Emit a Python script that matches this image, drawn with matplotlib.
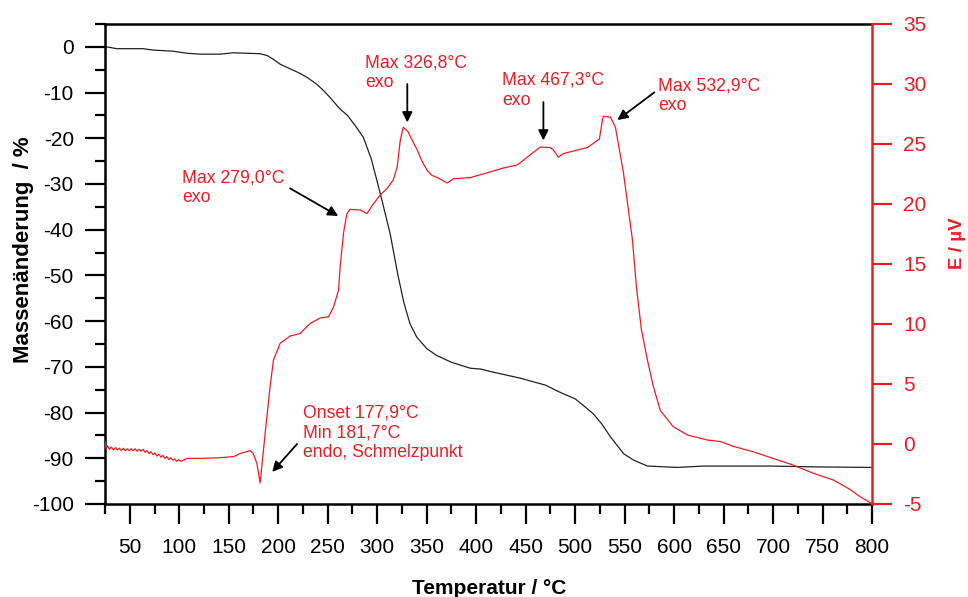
import matplotlib
matplotlib.use("Agg")
import matplotlib.pyplot as plt
from matplotlib.ticker import MultipleLocator, FixedLocator

plt.rcParams['font.family'] = ['Liberation Sans', 'DejaVu Sans']
plt.rcParams['axes.unicode_minus'] = False

RED = '#ed1c24'

# mass change (TG), left axis
tg_T = [25, 26.7, 36.8, 63.4, 73.5, 93.8, 107.9, 121, 141, 154.4, 181.7, 188.8, 195, 202, 212, 222, 230, 239,
        246, 252, 262, 270, 278, 286, 294, 303, 313, 321, 327, 333, 340, 350, 360, 375, 394, 405,
        414, 445, 470, 485, 500, 508, 518, 527, 535.6, 549, 559, 573, 603, 630, 697, 748, 800]
tg_m = [0.1, 0, -0.4, -0.4, -0.7, -0.95, -1.4, -1.6, -1.6, -1.3, -1.5, -1.9, -2.7, -3.8, -4.8, -5.8, -6.8, -8.2,
        -9.6, -11, -13.5, -15, -17.3, -19.8, -24.5, -32, -40.8, -50, -56, -60.5, -63.5, -66, -67.5, -69, -70.3, -70.5,
        -71, -72.5, -74, -75.6, -77, -78.4, -80.2, -82.5, -85.3, -89, -90.4, -91.7, -92, -91.7, -91.7, -91.9, -92]

# DTA signal, right axis
dta_T = [25, 26, 27.5, 29.5, 31.5, 33.5, 35.5, 37.5, 39.5, 41.5, 43.5, 45.5, 47.5, 49.5, 51.5,
         53.5, 55.5, 57.5, 59.5, 61.5, 63.5, 65.5, 67.5, 69.5, 71.5, 73.5, 75.5, 77.5, 79.5,
         81.5, 83.5, 85.5, 87.5, 89.5, 91.5, 93.5, 95.5, 97.5, 99.5, 101.5, 108, 121, 140, 155,
         161.5, 171.6, 174.6, 178.4, 181.7, 183.4, 186.8, 191.8, 195.2, 202, 212, 222, 232.3,
         242.4, 250.8, 255.8, 260.9, 262.6, 266, 269.4, 272.7, 282.8, 289.6, 296, 303, 310, 316.2,
         320.2, 323.3, 326.3, 331.4, 336, 340.5, 345, 350.6, 355, 360.7, 370.8, 376.9, 394, 411.2, 427.4,
         441.6, 454.7, 464.8, 474.9, 478, 483, 488.1, 502.2, 512.4, 522.5, 524.5, 527.5, 528.5,
         535.6, 540.7, 548.8, 557.9, 562, 567, 573, 579, 586, 599, 613.5, 633.7, 647, 660, 680,
         700, 720, 741, 761, 778, 788, 798.5, 800]
dta_E = [0.2, -0.4, -0.15, -0.45, -0.25, -0.5, -0.3, -0.5, -0.35, -0.55, -0.35, -0.55, -0.4, -0.55, -0.4,
         -0.55, -0.4, -0.6, -0.45, -0.6, -0.45, -0.7, -0.55, -0.8, -0.65, -0.9, -0.75, -1.0, -0.85,
         -1.1, -0.95, -1.2, -1.05, -1.3, -1.15, -1.35, -1.25, -1.45, -1.3, -1.45, -1.2, -1.2, -1.15, -1.05,
         -0.8, -0.55, -0.78, -1.6, -3.25, -1.9, 0.9, 4.8, 7, 8.4, 9, 9.2, 10.05,
         10.5, 10.6, 11.4, 12.8, 14.8, 17.6, 19.2, 19.55, 19.5, 19.2, 20.0, 20.75, 21.3, 22,
         23.1, 25.3, 26.4, 26, 25.2, 24.5, 23.6, 22.8, 22.4, 22.2, 21.75, 22.1, 22.2, 22.6, 23,
         23.25, 24.1, 24.75, 24.7, 24.5, 23.9, 24.2, 24.5, 24.7, 25.3, 25.4, 27, 27.3,
         27.25, 26.4, 22.6, 17, 13, 9.5, 7, 4.8, 2.8, 1.45, 0.75, 0.33, 0.2, -0.2, -0.65,
         -1.2, -1.75, -2.45, -3, -3.8, -4.4, -4.9, -5]

# annotations: text, text pos, arrow tail, arrow tip (right axis units)
notes = [
    ("Max 326,8°C\nexo", (288, 32.45), (330.4, 30.0), (330.4, 26.8)),
    ("Max 467,3°C\nexo", (426.4, 31.0), (467.9, 28.5), (467.9, 25.3)),
    ("Max 532,9°C\nexo", (584, 30.55), (580, 29.3), (542.7, 27.0)),
    ("Max 279,0°C\nexo", (102.9, 22.85), (212, 21.3), (260.6, 19.0)),
    ("Onset 177,9°C\nMin 181,7°C\nendo, Schmelzpunkt", (225.2, 3.25), (219, 0.0), (193.9, -2.33)),
]

fig = plt.figure(figsize=(9.68, 5.97), dpi=100)
ax = fig.add_axes([0.1085, 0.1558, 0.7924, 0.8040])
ax2 = ax.twinx()

ax.plot(tg_T, tg_m, color='#222222', lw=0.9)
ax2.plot(dta_T, dta_E, color=RED, lw=0.9)

ax.set_xlim(25, 800)
ax.set_ylim(-100, 5)
ax2.set_ylim(-5, 35)

ax.xaxis.set_major_locator(FixedLocator(list(range(50, 801, 50))))
ax.xaxis.set_minor_locator(MultipleLocator(25))
ax.yaxis.set_major_locator(MultipleLocator(10))
ax.yaxis.set_minor_locator(MultipleLocator(5))
ax2.yaxis.set_major_locator(MultipleLocator(5))

for s in ['left', 'bottom', 'top']:
    ax.spines[s].set_linewidth(1.8)
ax.spines['right'].set_visible(False)
for s in ['left', 'bottom', 'top']:
    ax2.spines[s].set_visible(False)
ax2.spines['right'].set_color(RED)
ax2.spines['right'].set_linewidth(1.8)

ax.tick_params(which='major', direction='out', length=14.5, width=1.6, labelsize=15, pad=8)
ax.tick_params(which='minor', direction='out', length=7, width=1.6)
ax.tick_params(axis='x', which='major', pad=10)
ax2.tick_params(which='major', direction='out', length=14.5, width=1.6, labelsize=15,
                pad=8, colors=RED)

fig.text(489 / 968, 1 - 588 / 597, "Temperatur / °C", ha='center', va='center',
         fontsize=15, fontweight='bold')
fig.text(24 / 968, 1 - 250 / 597, "Massenänderung  / %", ha='center', va='center',
         rotation=90, fontsize=16, fontweight='bold')
fig.text(957 / 968, 1 - 243 / 597, "E / µV", ha='center', va='center',
         rotation=90, fontsize=13.5, fontweight='bold', color=RED)

for txt, pos, tail, tip in notes:
    ax2.text(pos[0], pos[1], txt, color=RED, fontsize=12.7, ha='left', va='top')
    ax2.annotate('', xy=tip, xytext=tail,
                 arrowprops=dict(arrowstyle='-|>', color='black', lw=1.3,
                                 mutation_scale=15, shrinkA=0, shrinkB=0))

fig.savefig("out.png", dpi=100)
